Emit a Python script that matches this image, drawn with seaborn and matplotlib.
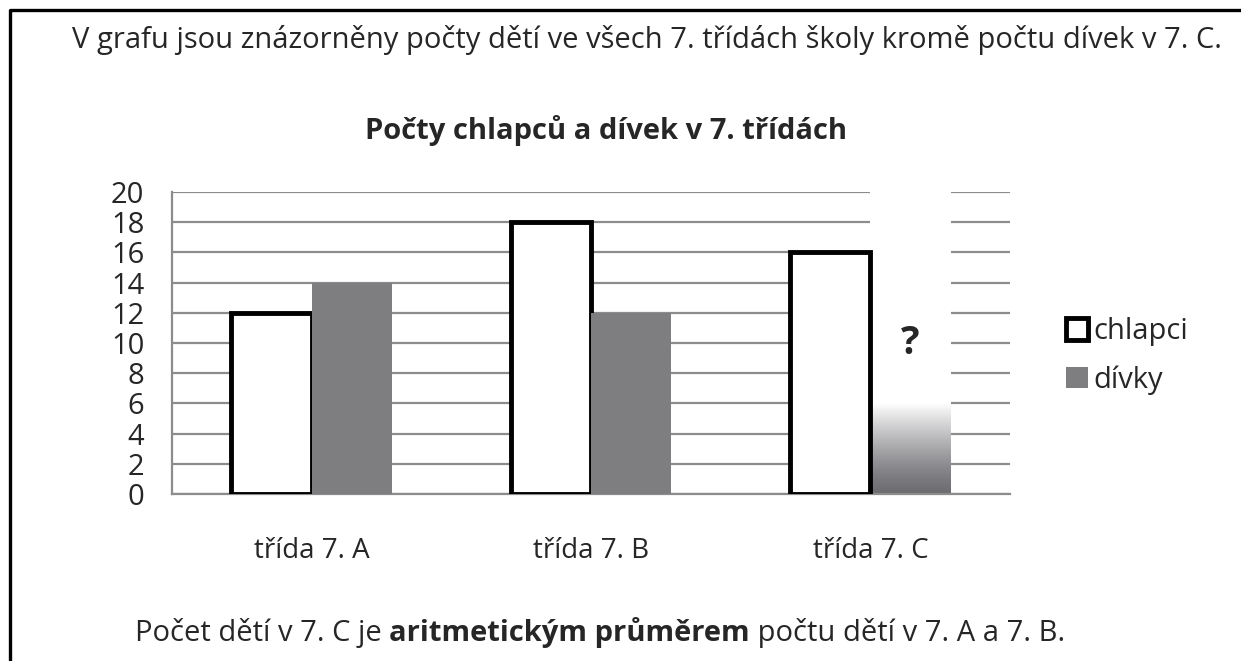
import numpy as np
import pandas as pd
import seaborn as sns
import matplotlib.pyplot as plt
from matplotlib.lines import Line2D

# data
classes = ['třída 7. A', 'třída 7. B', 'třída 7. C']
chlapci = [12, 18, 16]
divky = [14, 12, np.nan]   # girls in 7. C unknown ("?")
series = ['chlapci', 'dívky']
yticks = list(range(0, 21, 2))

top_text = 'V grafu jsou znázorněny počty dětí ve všech 7. třídách školy kromě počtu dívek v 7. C.'
title = 'Počty chlapců a dívek v 7. třídách'
bottom_parts = [('Počet dětí v 7. C je ', 'normal'),
                ('aritmetickým průměrem', 'bold'),
                (' počtu dětí v 7. A a 7. B.', 'normal')]

df = pd.DataFrame({
    'třída': classes * 2,
    'počet': chlapci + divky,
    'skupina': [series[0]] * 3 + [series[1]] * 3,
})

sns.set_style('white')
plt.rcParams['font.family'] = ['Open Sans', 'DejaVu Sans']

gray = '#7d7d82'
grid_col = '#8c8c8c'
fs = 21

fig = plt.figure(figsize=(12.41, 6.61), dpi=100)
ax = fig.add_axes([172 / 1241, 1 - 494 / 661, (1010 - 172) / 1241, (494 - 192) / 661])

sns.barplot(data=df, x='třída', y='počet', hue='skupina', hue_order=series,
            palette=['white', gray], width=0.575, errorbar=None, ax=ax,
            legend=False, zorder=3)

for p in ax.containers[0].patches:
    p.set_edgecolor('black')
    p.set_linewidth(3.5)
for p in ax.containers[1].patches:
    p.set_edgecolor('none')

ax.set_ylim(0, 20)
ax.set_yticks(yticks)
ax.yaxis.grid(True, color=grid_col, linewidth=1.6, zorder=0)
ax.set_axisbelow(True)
for side in ['top', 'right']:
    ax.spines[side].set_visible(False)
for side in ['left', 'bottom']:
    ax.spines[side].set_color(grid_col)
    ax.spines[side].set_linewidth(1.6)
ax.tick_params(axis='both', length=0)
ax.tick_params(axis='y', pad=20, labelsize=fs)
ax.tick_params(axis='x', pad=31, labelsize=20)
ax.set_xlabel('')
ax.set_ylabel('')

# unknown girls' bar in 7. C: fading gradient next to the boys' bar
pc = ax.containers[0].patches[2]
x0 = pc.get_x() + pc.get_width()
w = pc.get_width()
ys = np.linspace(0, 20, 400)
t = np.clip(ys / 6.0, 0, 1) ** 1.3
g = np.array([0x6c, 0x6c, 0x71]) / 255
img = g * (1 - t[:, None, None]) + np.ones(3) * t[:, None, None]
ax.imshow(img, extent=(x0, x0 + w, 0, 20), origin='lower', aspect='auto', zorder=2.5)
ax.set_xlim(-0.5, 2.5)
ax.text(x0 + w / 2, 10, '?', ha='center', va='center', fontsize=28, fontweight='bold', zorder=4)

leg = ax.legend(handles=ax.containers[:2], labels=series, loc='center left',
                bbox_to_anchor=(1066 / 1241, 1 - 356 / 661), bbox_transform=fig.transFigure,
                frameon=False, fontsize=fs, handlelength=0.75, handleheight=0.75,
                handletextpad=0.2, labelspacing=0.65, borderpad=0, borderaxespad=0)

fig.text(647 / 1241, 1 - 40 / 661, top_text, ha='center', va='center', fontsize=fs)
fig.text(606 / 1241, 1 - 130 / 661, title, ha='center', va='center', fontsize=fs, fontweight='bold')

# bottom sentence with a bold part
renderer = fig.canvas.get_renderer()
x = 135 / 1241
for s, wt in bottom_parts:
    tx = fig.text(x, 1 - 633 / 661, s, ha='left', va='center', fontsize=fs, fontweight=wt)
    bb = tx.get_window_extent(renderer=renderer)
    x = bb.x1 / fig.bbox.width

# frame lines (left and top)
fig.add_artist(Line2D([10 / 1241, 10 / 1241, 1], [0, 1 - 10 / 661, 1 - 10 / 661],
                      transform=fig.transFigure, color='black', linewidth=2.4))

fig.savefig('out.png', dpi=100)
